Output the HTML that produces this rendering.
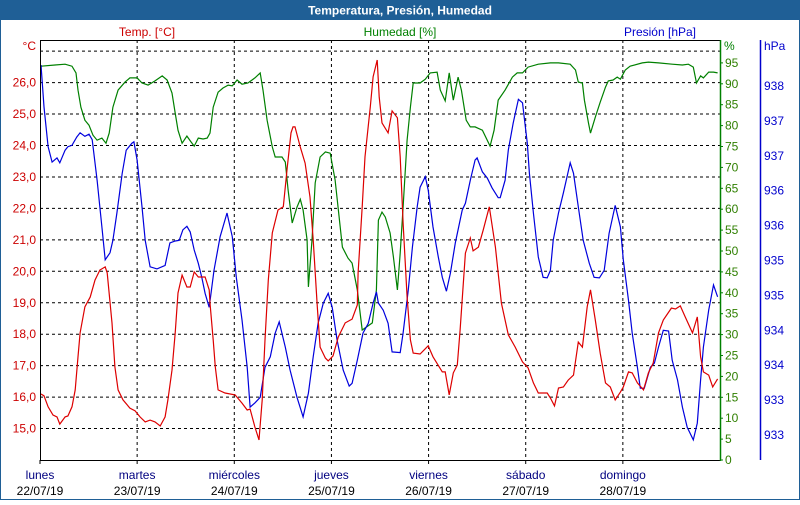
<!DOCTYPE html>
<html><head><meta charset="utf-8"><style>
body{margin:0;background:#fff}
svg text{font-family:"Liberation Sans",sans-serif;font-size:12px}
</style></head><body>
<svg id="chart" width="800" height="500" viewBox="0 0 800 500">
<rect x="0" y="0" width="800" height="500" fill="#fff"/>
<rect x="0" y="0" width="800" height="20" fill="#1f5f96"/>
<text x="400" y="14.5" text-anchor="middle" fill="#fff" font-weight="bold">Temperatura, Presión, Humedad</text>
<rect x="0.5" y="19.5" width="799" height="480" fill="none" stroke="#1f5f96"/>
<text x="147" y="36" text-anchor="middle" fill="#cc0000">Temp. [°C]</text>
<text x="400" y="36" text-anchor="middle" fill="#008000">Humedad [%]</text>
<text x="660" y="36" text-anchor="middle" fill="#0000cc">Presión [hPa]</text>
<text x="36" y="50" text-anchor="end" fill="#cc0000">°C</text>
<text x="724" y="50" fill="#008000">%</text>
<text x="764" y="50" fill="#0000cc">hPa</text>
<g id="grid"></g>
<g id="series"></g>
<g id="axes"></g>
</svg>
<script>
// time in hours since 22/07/19 00:00
const tempTimes=[0.25,1.0,2.0,3.2,4.2,4.9,6.2,6.9,7.9,8.7,9.4,9.9,11.1,12.4,13.6,14.8,16.1,16.6,17.8,18.5,19.3,20.5,22.2,23.5,24.7,26.0,27.2,28.4,29.7,30.9,31.6,32.6,33.4,34.1,35.1,36.3,37.1,38.1,39.1,40.8,41.8,42.0,42.8,43.3,44.0,45.7,48.2,49.9,51.2,51.9,53.1,54.1,54.9,55.6,56.4,57.4,58.8,60.1,61.1,62.0,62.5,63.0,64.3,65.5,66.7,67.5,68.5,69.2,70.5,71.2,72.4,73.7,75.4,77.1,78.4,78.6,79.6,80.3,81.6,82.3,83.3,83.8,84.5,86.0,87.0,88.3,89.0,89.7,90.7,91.5,92.2,93.9,95.9,97.1,99.4,100.1,101.1,102.1,103.1,103.8,105.1,106.3,107.0,108.3,109.5,111.0,112.5,114.0,115.7,117.4,119.2,120.6,121.9,123.1,125.3,126.1,127.1,128.1,129.3,130.5,131.8,133.0,134.0,135.2,136.0,137.2,138.4,139.7,140.9,142.1,143.4,144.1,145.4,146.3,147.6,149.1,150.3,151.5,152.8,154.0,156.0,157.0,158.2,159.4,161.2,162.4,163.2,163.9,165.2,166.2,167.4];
const tempValues=[16.10,16.04,15.69,15.43,15.37,15.14,15.37,15.40,15.69,16.23,17.28,18.04,18.87,19.18,19.72,20.04,20.14,19.95,18.36,16.96,16.23,15.91,15.65,15.56,15.37,15.21,15.27,15.21,15.08,15.37,15.91,16.86,18.04,19.31,19.88,19.50,19.50,19.98,19.82,19.82,19.41,18.99,17.82,16.96,16.23,16.13,16.07,15.81,15.59,15.62,15.05,14.64,15.91,17.82,19.72,21.22,21.95,22.05,23.32,24.40,24.59,24.59,23.95,23.44,22.36,21.00,18.87,17.59,17.24,17.15,17.31,17.91,18.36,18.48,18.93,19.95,22.05,23.64,25.23,26.18,26.72,25.54,24.72,24.40,25.10,24.88,23.64,21.54,19.18,17.82,17.40,17.37,17.63,17.28,16.80,16.80,16.07,16.77,17.02,18.13,20.58,21.06,20.65,20.77,21.31,22.05,20.77,18.99,17.98,17.59,17.12,16.93,16.45,16.13,16.13,15.97,15.72,16.29,16.32,16.54,16.70,17.75,17.59,18.87,19.41,18.45,17.40,16.45,16.32,15.91,16.16,16.32,16.80,16.77,16.45,16.23,16.77,17.08,18.04,18.45,18.83,18.80,18.90,18.55,18.04,18.55,17.28,16.80,16.70,16.32,16.58];
const humTimes=[0.25,3.7,6.2,7.9,8.9,9.4,10.1,11.1,12.1,13.1,14.1,15.3,16.3,17.1,18.0,19.3,21.0,22.2,24.0,25.2,26.7,28.4,30.2,31.4,32.6,33.4,34.1,35.1,36.3,37.3,38.1,39.1,40.3,41.3,42.0,42.8,44.0,45.2,46.5,47.5,48.7,49.9,51.4,53.1,54.4,55.1,56.1,57.4,58.1,59.8,60.6,61.3,62.3,63.5,64.3,65.0,66.0,66.3,67.2,68.0,69.2,70.5,71.7,72.9,74.7,76.1,77.1,78.4,79.6,82.1,83.1,83.6,84.5,85.3,86.5,87.3,88.3,89.0,89.7,90.7,91.5,92.2,93.9,95.2,96.4,98.1,98.9,100.1,101.1,102.1,103.3,104.1,105.3,106.3,107.5,109.3,111.2,112.2,113.2,114.9,116.7,117.9,119.2,120.6,123.1,126.1,128.1,131.0,132.3,133.0,134.0,134.5,135.5,136.0,137.2,138.4,139.7,140.4,141.6,142.6,143.4,144.6,145.8,148.8,150.3,152.8,156.2,158.7,160.2,161.4,162.2,163.2,163.9,165.2,166.4,167.4];
const humValues=[94.2,94.5,94.7,94.2,92.6,88.5,84.4,81.3,80.1,77.7,76.5,77.0,75.8,78.2,84.4,88.5,90.4,91.4,91.4,90.2,89.7,90.7,91.9,90.9,87.8,83.0,78.9,75.8,77.5,76.1,75.1,77.0,76.8,77.0,78.2,84.4,88.0,89.0,89.7,89.5,90.9,89.9,90.2,91.4,92.6,88.5,81.3,74.9,72.5,72.5,71.3,64.6,56.7,60.5,62.4,59.8,52.6,41.4,52.6,66.3,72.5,73.7,73.4,67.0,50.9,48.3,47.1,40.7,31.1,32.8,40.7,57.4,59.3,58.1,54.3,48.6,40.7,49.5,60.5,76.5,84.4,90.2,90.2,91.1,92.6,92.8,88.5,85.9,92.6,86.1,91.6,88.5,81.3,79.7,79.7,78.9,75.1,78.9,86.1,88.5,91.6,92.6,92.6,94.0,94.7,95.0,95.0,94.7,93.3,90.4,90.2,86.1,80.6,78.2,82.0,85.6,89.2,90.7,90.9,91.6,91.1,93.3,94.2,95.0,95.2,95.0,94.7,94.5,94.7,94.0,90.2,91.9,91.4,92.8,92.8,92.6];
const presTimes=[0.25,1.0,2.0,3.0,4.2,4.9,6.2,6.9,7.9,9.1,9.9,11.1,12.1,12.9,14.1,15.3,16.1,17.3,18.0,19.0,20.3,21.3,22.7,23.2,24.0,25.2,26.0,27.2,28.9,30.9,32.1,33.4,34.4,35.3,36.3,37.1,38.1,39.1,40.0,40.8,41.8,43.0,44.5,46.2,47.5,48.5,49.9,51.2,51.9,53.1,54.4,55.6,56.9,58.1,59.1,60.6,61.8,63.5,65.0,66.3,67.5,68.7,70.0,71.2,72.2,73.4,74.9,76.4,77.1,78.4,79.8,81.1,82.3,83.1,83.6,84.8,86.0,87.0,89.0,89.7,91.0,92.0,93.2,93.9,95.2,95.9,97.1,98.4,99.4,100.4,101.4,102.6,104.3,105.1,106.3,107.5,108.0,109.3,110.5,111.7,113.2,113.7,114.9,115.7,116.9,118.2,119.2,120.4,120.9,121.9,123.1,124.3,125.3,126.1,126.8,128.1,129.3,131.0,131.8,133.0,134.2,135.7,136.9,138.2,139.4,140.6,142.1,143.4,144.1,145.4,146.3,147.6,148.3,149.3,150.1,150.8,151.8,152.8,154.0,155.3,156.2,157.5,158.7,159.9,161.4,162.4,163.2,163.9,165.2,166.4,167.4];
const presValues=[938.30,937.70,937.13,936.91,936.97,936.90,937.08,937.13,937.15,937.27,937.33,937.28,937.31,937.23,936.65,935.98,935.51,935.61,935.79,936.18,936.75,937.08,937.18,937.20,936.94,936.27,935.79,935.41,935.38,935.43,935.75,935.78,935.79,935.94,935.99,935.91,935.65,935.46,935.25,935.03,934.83,935.36,935.84,936.18,935.84,935.26,934.65,933.97,933.40,933.46,933.54,933.97,934.12,934.46,934.62,934.26,933.93,933.54,933.26,933.60,934.12,934.60,934.89,935.03,934.83,934.36,933.93,933.70,933.74,934.07,934.46,934.60,934.89,935.05,934.89,934.79,934.60,934.19,934.18,934.46,935.08,935.69,936.27,936.55,936.70,936.51,935.98,935.55,935.26,935.06,935.32,935.75,936.22,936.32,936.65,936.94,936.97,936.77,936.68,936.54,936.40,936.40,936.65,937.08,937.47,937.81,937.76,937.18,936.75,936.18,935.55,935.26,935.25,935.36,935.79,936.18,936.47,936.90,936.75,936.27,935.79,935.46,935.26,935.25,935.36,935.89,936.29,935.98,935.51,934.93,934.46,933.97,933.67,933.67,933.83,933.97,934.03,934.26,934.50,934.49,934.07,933.79,933.40,933.11,932.93,933.17,933.79,934.26,934.79,935.15,934.98];
const dayNames=["lunes","martes","miércoles","jueves","viernes","sábado","domingo"];
const dayDates=["22/07/19","23/07/19","24/07/19","25/07/19","26/07/19","27/07/19","28/07/19"];
const tempTicks=[15,16,17,18,19,20,21,22,23,24,25,26];
const humTicks=[0,5,10,15,20,25,30,35,40,45,50,55,60,65,70,75,80,85,90,95];
const presTickValues=[938,937.5,937,936.5,936,935.5,935,934.5,934,933.5,933];
const presTickLabels=["938","937","937","936","936","935","935","934","934","933","933"];

const L=40,R=720,T=40,B=460;
const xS=h=>L+h*(R-L)/168;
const yT=v=>B-(v-14)*31.45;
const yH=v=>B-v*4.18;
const yP=v=>86+(938-v)*69.8;
const NS="http://www.w3.org/2000/svg";
function mk(parent,tag,attrs){const e=document.createElementNS(NS,tag);for(const k in attrs)e.setAttribute(k,attrs[k]);parent.appendChild(e);return e;}
const grid=document.getElementById('grid'),ser=document.getElementById('series'),ax=document.getElementById('axes');

for(let v=15;v<=27;v++){
  const l=mk(grid,'line',{x1:L,x2:R,y1:yT(v),y2:yT(v),stroke:'#000','stroke-dasharray':'3,3'});
  
  
}
for(let d=1;d<7;d++){
  const x=xS(d*24);
  const l=mk(grid,'line',{x1:x,x2:x,y1:T,y2:B,stroke:'#000','stroke-dasharray':'3,3'});
  
  
}
function line(times,vals,ys,color,name){
  const p=mk(ser,'polyline',{points:times.map((t,i)=>xS(t).toFixed(1)+','+ys(vals[i]).toFixed(1)).join(' '),fill:'none',stroke:color,'stroke-width':1.2});
  
  
}
line(humTimes,humValues,yH,'#008000','humidity-line');
line(presTimes,presValues,yP,'#0000dd','pressure-line');
line(tempTimes,tempValues,yT,'#dd0000','temperature-line');

let a=mk(ax,'line',{x1:L,x2:R,y1:T+0.5,y2:T+0.5,stroke:'#000'});


a=mk(ax,'line',{x1:L+0.5,x2:L+0.5,y1:T,y2:B,stroke:'#000'});


a=mk(ax,'line',{x1:L,x2:R,y1:B+0.5,y2:B+0.5,stroke:'#000'});


a=mk(ax,'line',{x1:R+0.5,x2:R+0.5,y1:T,y2:B+1,stroke:'#008000','stroke-width':1.5});


a=mk(ax,'line',{x1:760.5,x2:760.5,y1:T,y2:B,stroke:'#0000cc','stroke-width':1.5});



tempTicks.forEach(v=>{
  const t=mk(ax,'text',{x:36,y:yT(v)+4,'text-anchor':'end',fill:'#cc0000'});
  t.textContent=v.toFixed(1).replace('.',',');
  
  
});
humTicks.forEach(v=>{
  const k=mk(ax,'line',{x1:R,x2:R+3,y1:yH(v),y2:yH(v),stroke:'#008000'});
  
  
  const t=mk(ax,'text',{x:725,y:yH(v)+4,fill:'#2f7f00'});
  t.textContent=String(v);
  
  
});
presTickValues.forEach((v,i)=>{
  const t=mk(ax,'text',{x:764,y:yP(v)+4,fill:'#0000cc'});
  t.textContent=presTickLabels[i];
  
  
});
dayNames.forEach((n,d)=>{
  const x=xS(d*24);
  const k=mk(ax,'line',{x1:x,x2:x,y1:B,y2:B+4,stroke:'#000'});
  
  
  const t=mk(ax,'text',{x:x,y:479,'text-anchor':'middle',fill:'#000080'});
  t.textContent=n;
  
  
  const t2=mk(ax,'text',{x:x,y:495,'text-anchor':'middle',fill:'#000'});
  t2.textContent=dayDates[d];
  
  
});
</script>
</body></html>
